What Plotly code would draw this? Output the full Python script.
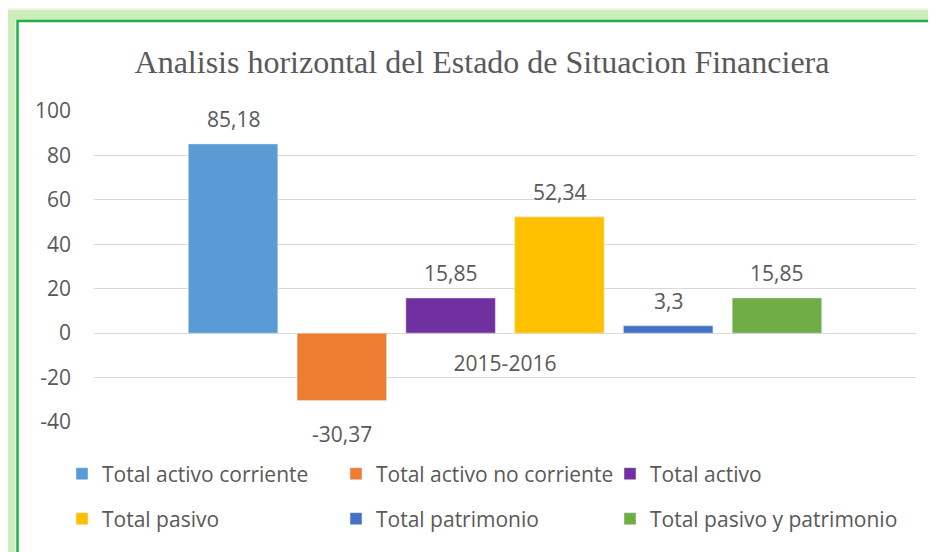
import plotly.graph_objects as go

categories = ["2015-2016"]
series_names = ["Total activo corriente", "Total activo no corriente", "Total activo",
                "Total pasivo", "Total patrimonio", "Total pasivo y patrimonio"]
series_values = [85.18, -30.37, 15.85, 52.34, 3.3, 15.85]
series_colors = ["#5B9BD5", "#ED7D31", "#7030A0", "#FFC000", "#4472C4", "#70AD47"]
y_ticks = [-40, -20, 0, 20, 40, 60, 80, 100]
y_tick_labels = ["-40", "-20", "0", "20", "40", "60", "80", "100"]

# the page body adds an 8px offset; work in reference pixels and shift
OFF = 8
W, H = 936 - OFF, 552 - OFF
# plot area in reference pixels
PL, PR, PT, PB = 94, 916, 111, 422
ML, MR, MT, MB = PL - OFF, W - (PR - OFF), PT - OFF, H - (PB - OFF)
PW, PH = PR - PL, PB - PT

def px_x(p):
    return (p - PL) / PW

def px_y(p):
    return (PB - p) / PH

TXT = "#595959"
FONT = "Open Sans"
BARGAP, GROUPGAP = 0.206, 0.177

fig = go.Figure()
for i, (name, v, c) in enumerate(zip(series_names, series_values, series_colors)):
    fig.add_trace(go.Bar(
        x=categories, y=[v], name=name, marker_color=c,
        legend="legend" if i < 3 else "legend2",
        legendwidth=265 if i in (2, 5) else 229,
    ))

# data labels, centred over each bar of the group
n = len(series_values)
slot = (1 - BARGAP) / n
for i, v in enumerate(series_values):
    xc = -(1 - BARGAP) / 2 + slot * (i + 0.5)
    fig.add_annotation(
        x=xc, y=v, xref="x", yref="y",
        text=f"{v:g}".replace(".", ","), showarrow=False,
        yanchor="middle", yshift=25 if v >= 0 else -33,
        font=dict(family=FONT, size=21, color=TXT),
    )

fig.update_layout(
    width=W, height=H,
    margin=dict(l=ML, r=MR, t=MT, b=MB),
    paper_bgcolor="white", plot_bgcolor="white",
    barmode="group", bargap=BARGAP, bargroupgap=GROUPGAP,
    title=dict(text="Analisis horizontal del Estado de Situacion Financiera",
               font=dict(family="Liberation Serif", size=32, color=TXT),
               x=(482 - OFF) / W, xref="container", xanchor="center",
               y=1 - (62 - OFF) / H, yref="container", yanchor="middle"),
    font=dict(family=FONT, size=21, color=TXT),
    yaxis=dict(range=[-40, 100], tickvals=y_ticks, ticktext=y_tick_labels,
               showgrid=True, gridcolor="#D9D9D9", gridwidth=1, zeroline=True,
               zerolinecolor="#D9D9D9", zerolinewidth=1, showline=False,
               ticklabelstandoff=22, tickfont=dict(family=FONT, size=21, color=TXT)),
    xaxis=dict(anchor="free", position=40 / 140, showline=False, showgrid=False,
               ticks="", ticklabelstandoff=16,
               tickfont=dict(family=FONT, size=21, color=TXT)),
    legend=dict(orientation="h", x=px_x(62), xanchor="left", y=px_y(474),
                yanchor="middle", entrywidth=229, entrywidthmode="pixels",
                font=dict(family=FONT, size=21, color=TXT), bgcolor="rgba(0,0,0,0)"),
    legend2=dict(orientation="h", x=px_x(62), xanchor="left", y=px_y(519),
                 yanchor="middle", entrywidth=229, entrywidthmode="pixels",
                 font=dict(family=FONT, size=21, color=TXT), bgcolor="rgba(0,0,0,0)"),
    showlegend=True,
)

# green glowing frame of the chart area (reference pixel positions: left, top, width)
frame = [(4, 6, 10, "#EFF6EC"), (10.5, 15, 10, "#CDEDBB"), (17.5, 21, 2.5, "#1DB14B")]
for lx, ty, lw, col in frame:
    fig.add_shape(type="rect", xref="paper", yref="paper",
                  x0=px_x(lx), x1=px_x(1000), y0=px_y(ty), y1=px_y(620),
                  line=dict(color=col, width=lw), fillcolor="rgba(0,0,0,0)",
                  layer="below")

fig.write_html("out.html")
